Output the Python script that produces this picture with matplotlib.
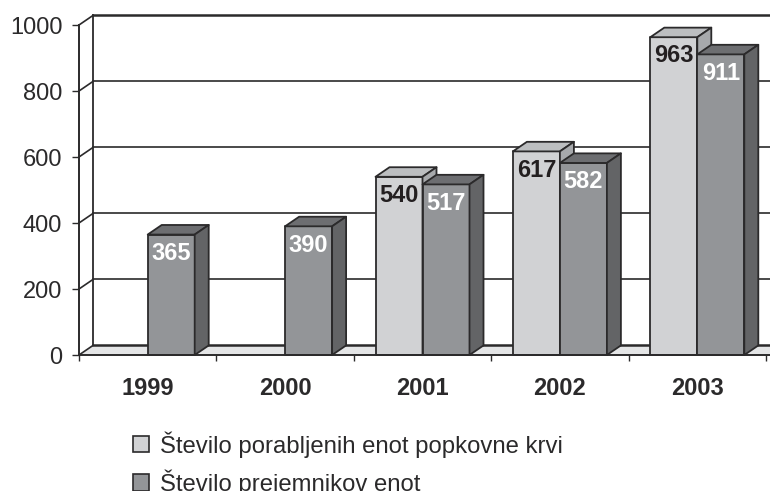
import matplotlib.pyplot as plt
from matplotlib.patches import Polygon, Patch

plt.rcParams['font.family'] = ['Liberation Sans', 'DejaVu Sans']

# Data
years = ["1999", "2000", "2001", "2002", "2003"]
porabljene = [None, None, 540, 617, 963]
prejemniki = [365, 390, 517, 582, 911]
y_ticks = [0, 200, 400, 600, 800, 1000]
labels = ["Število porabljenih enot popkovne krvi", "Število prejemnikov enot"]

ink = "#2b2a2b"
light = ("#d1d2d4", "#bcbec0", "#a7a9ac")   # front, top, side
dark = ("#939598", "#6d6e71", "#636466")

# depth of the fake 3D, in data units
dx = 14 / 137.4
dy = 29

fig = plt.figure(figsize=(7.7, 4.91), dpi=100)
ax = fig.add_axes([79 / 770, (491 - 355) / 491, 691 / 770, 330 / 491])
ax.set_xlim(0, 691 / 137.4)
ax.set_ylim(0, 1000)


def bar(x0, x1, v, cols):
    ax.add_patch(Polygon([(x0, 0), (x1, 0), (x1, v), (x0, v)], fc=cols[0], ec=ink, lw=1.3, zorder=4, clip_on=False, joinstyle="round"))
    ax.add_patch(Polygon([(x0, v), (x1, v), (x1 + dx, v + dy), (x0 + dx, v + dy)], fc=cols[1], ec=ink, lw=1.3, zorder=4, clip_on=False, joinstyle="round"))
    ax.add_patch(Polygon([(x1, 0), (x1 + dx, dy), (x1 + dx, v + dy), (x1, v)], fc=cols[2], ec=ink, lw=1.3, zorder=4, clip_on=False, joinstyle="round"))


# floor
ax.add_patch(Polygon([(0, 0), (dx, dy), (6, dy), (6, 0)], fc="#e4e5e6", ec="none", zorder=1))
ax.plot([dx, 6], [dy, dy], color=ink, lw=1.8, zorder=2)

# back wall and side wall lines
for t in y_ticks[1:]:
    lw = 1.8 if t == 1000 else 1.2
    ax.plot([dx, 6], [t + dy, t + dy], color=ink, lw=lw, zorder=2, clip_on=t != 1000)
    ax.plot([0, dx], [t, t + dy], color=ink, lw=1.2, zorder=2, clip_on=False)
ax.plot([0, dx], [0, dy], color=ink, lw=1.2, zorder=2)
ax.plot([dx, dx], [0 + dy, 1000 + dy], color=ink, lw=1.3, zorder=2, clip_on=False)

w = 47 / 137.4
for i in range(len(years)):
    c = i + 0.5
    if porabljene[i] is not None:
        bar(c - w, c, porabljene[i], light)
        ax.annotate(str(porabljene[i]), (c - w / 2, porabljene[i]), xytext=(0, -13.5), textcoords="offset points",
                    ha="center", va="center", fontsize=17, fontweight="bold", color="#231f20", zorder=6)
    bar(c, c + w, prejemniki[i], dark)
    ax.annotate(str(prejemniki[i]), (c + w / 2, prejemniki[i]), xytext=(0, -13.5), textcoords="offset points",
                ha="center", va="center", fontsize=17, fontweight="bold", color="white", zorder=6)

# axes
for s in ["top", "right"]:
    ax.spines[s].set_visible(False)
for s in ["left", "bottom"]:
    ax.spines[s].set_color(ink)
    ax.spines[s].set_linewidth(1.4)
    ax.spines[s].set_zorder(5)
ax.set_yticks(y_ticks)
ax.tick_params(axis="y", length=5, width=1, color=ink, labelsize=17, labelcolor=ink, pad=7)
ax.set_xticks(range(6))
ax.set_xticklabels([])
ax.tick_params(axis="x", length=4, width=1, color=ink)
ax.set_xticks([i + 0.5 for i in range(5)], minor=True)
ax.set_xticklabels(years, minor=True, fontsize=17, fontweight="bold", color=ink)
ax.tick_params(axis="x", which="minor", length=0, pad=16)

handles = [Patch(fc=light[0], ec=ink, lw=1.2), Patch(fc=dark[0], ec=ink, lw=1.2)]
fig.legend(handles, labels, loc="upper left", bbox_to_anchor=(133 / 770, 1 - 431 / 491), frameon=False, fontsize=17.2,
           borderaxespad=0, borderpad=0, handlelength=0.68, handleheight=0.68, handletextpad=0.46, labelspacing=0.5,
           labelcolor=ink)

plt.savefig("out.png", dpi=100)
